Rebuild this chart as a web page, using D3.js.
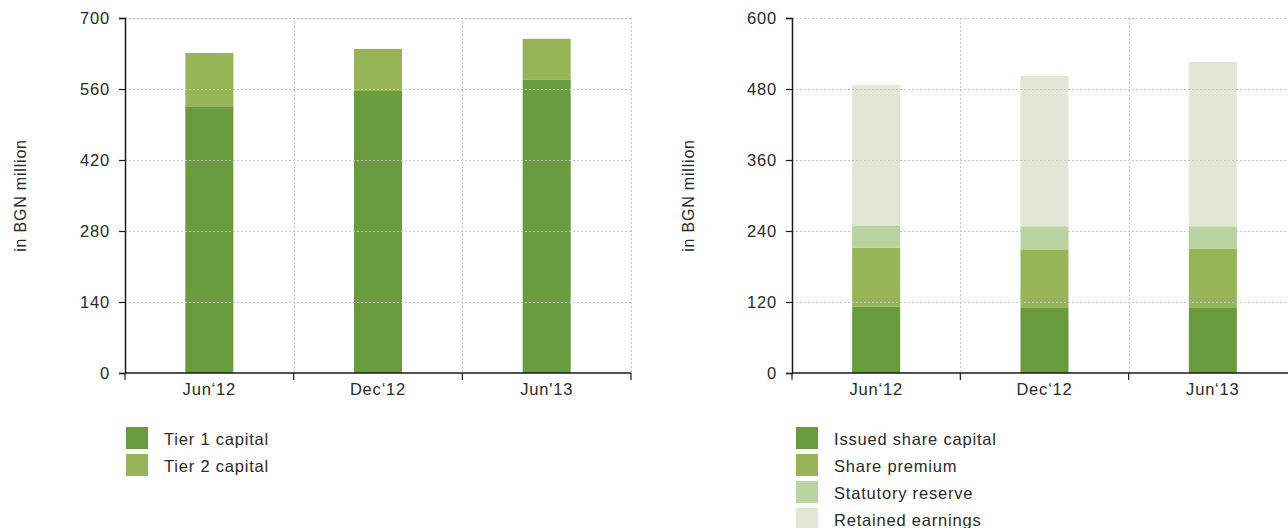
<!DOCTYPE html>
<html>
<head>
<meta charset="utf-8">
<script src="https://cdnjs.cloudflare.com/ajax/libs/d3/7.8.5/d3.min.js"></script>
<style>
  html, body { margin: 0; padding: 0; background: #fff; }
  svg text { font-family: "Liberation Sans", Arial, sans-serif; fill: #2a2a2a; letter-spacing: 0.8px; }
</style>
</head>
<body>
<svg id="chart" width="1288" height="528"></svg>
<script>
// Capital adequacy (left) and equity composition (right), BGN million
const periodsLeft = ["Jun\u201812", "Dec\u201812", "Jun'13"];
const periodsRight = ["Jun\u201812", "Dec\u201812", "Jun\u201813"];

const tier1Capital = [526, 556, 578];
const tier2Capital = [105, 83, 81];

const issuedShareCapital = [112, 111, 111];
const sharePremium = [100, 98, 99.5];
const statutoryReserve = [37.5, 39, 37.5];
const retainedEarnings = [237, 254, 277.5];

const leftTicks = [0, 140, 280, 420, 560, 700];
const rightTicks = [0, 120, 240, 360, 480, 600];

const leftSeries = ["Tier 1 capital", "Tier 2 capital"];
const rightSeries = ["Issued share capital", "Share premium", "Statutory reserve", "Retained earnings"];

const palette = ["#689a3e", "#97b556", "#b8d4a0", "#e2e6d4"];

const svg = d3.select("#chart");

function drawPanel(opts) {
  const { x0, x1, yTop, yBottom, categories, seriesNames, seriesValues, ticks, legendX, axisTitleX } = opts;
  const g = svg.append("g");

  const x = d3.scaleBand().domain(categories).range([x0, x1]).paddingInner(0).paddingOuter(0);
  const y = d3.scaleLinear().domain([ticks[0], ticks[ticks.length - 1]]).range([yBottom, yTop]);

  // stacked rows
  const rows = categories.map((c, i) => {
    const r = { cat: c };
    seriesNames.forEach((s, j) => r[s] = seriesValues[j][i]);
    return r;
  });
  const stacked = d3.stack().keys(seriesNames)(rows);
  const barW = 48;

  g.selectAll("g.layer").data(stacked).join("g")
    .attr("fill", (d, i) => palette[i])
    .selectAll("rect").data(d => d).join("rect")
    .attr("x", d => x(d.data.cat) + x.bandwidth() / 2 - barW / 2)
    .attr("width", barW)
    .attr("y", d => y(d[1]))
    .attr("height", d => y(d[0]) - y(d[1]));

  // dotted grid over the bars
  const grid = g.append("g").attr("stroke", "#c4c4c4").attr("stroke-width", 1)
    .attr("stroke-dasharray", "2,2");
  grid.selectAll("line.h").data(ticks.slice(1)).join("line")
    .attr("x1", x0).attr("x2", x1)
    .attr("y1", d => Math.round(y(d)) + 0.5).attr("y2", d => Math.round(y(d)) + 0.5);
  const vLines = categories.map(c => x(c) + x.bandwidth());
  grid.selectAll("line.v").data(vLines).join("line")
    .attr("x1", d => Math.round(d) + 0.5).attr("x2", d => Math.round(d) + 0.5)
    .attr("y1", yTop).attr("y2", yBottom);

  // y axis
  const yAxis = d3.axisLeft(y).tickValues(ticks).tickSize(6).tickPadding(9);
  const ya = g.append("g").attr("transform", `translate(${x0},0)`).call(yAxis);
  ya.select(".domain").attr("stroke", "#1a1a1a").attr("stroke-width", 1.5);
  ya.selectAll(".tick line").attr("stroke", "#1a1a1a").attr("stroke-width", 1.2);
  ya.selectAll(".tick text").style("font-size", "16.5px").style("font-family", "'Liberation Sans', Arial, sans-serif")
    .attr("fill", "#2a2a2a").attr("dy", "0.36em");

  // x axis with boundary ticks
  const xa = g.append("g").attr("transform", `translate(0,${yBottom})`);
  xa.append("line").attr("x1", x0).attr("x2", x1).attr("stroke", "#1a1a1a").attr("stroke-width", 1.5);
  const bounds = [x0].concat(vLines);
  xa.selectAll("line.tk").data(bounds).join("line")
    .attr("x1", d => d).attr("x2", d => d).attr("y1", 0).attr("y2", 7)
    .attr("stroke", "#1a1a1a").attr("stroke-width", 1.2);
  xa.selectAll("text").data(categories).join("text")
    .attr("x", d => x(d) + x.bandwidth() / 2)
    .attr("y", 22)
    .attr("text-anchor", "middle")
    .style("font-size", "16.5px")
    .text(d => d);

  // axis title
  g.append("text")
    .attr("transform", `translate(${axisTitleX},${(yTop + yBottom) / 2}) rotate(-90)`)
    .attr("text-anchor", "middle")
    .style("font-size", "16px")
    .text("in BGN million");

  // legend
  const lg = g.append("g");
  seriesNames.forEach((s, i) => {
    const ly = 427 + i * 27;
    lg.append("rect").attr("x", legendX).attr("y", ly).attr("width", 22).attr("height", 22).attr("fill", palette[i]);
    lg.append("text").attr("x", legendX + 38).attr("y", ly + 18).style("font-size", "16.5px").text(s);
  });
}

drawPanel({
  x0: 125, x1: 631, yTop: 18, yBottom: 373,
  categories: periodsLeft,
  seriesNames: leftSeries,
  seriesValues: [tier1Capital, tier2Capital],
  ticks: leftTicks,
  legendX: 126,
  axisTitleX: 26
});

drawPanel({
  x0: 792, x1: 1297, yTop: 18, yBottom: 373,
  categories: periodsRight,
  seriesNames: rightSeries,
  seriesValues: [issuedShareCapital, sharePremium, statutoryReserve, retainedEarnings],
  ticks: rightTicks,
  legendX: 796,
  axisTitleX: 694
});
</script>
</body>
</html>
